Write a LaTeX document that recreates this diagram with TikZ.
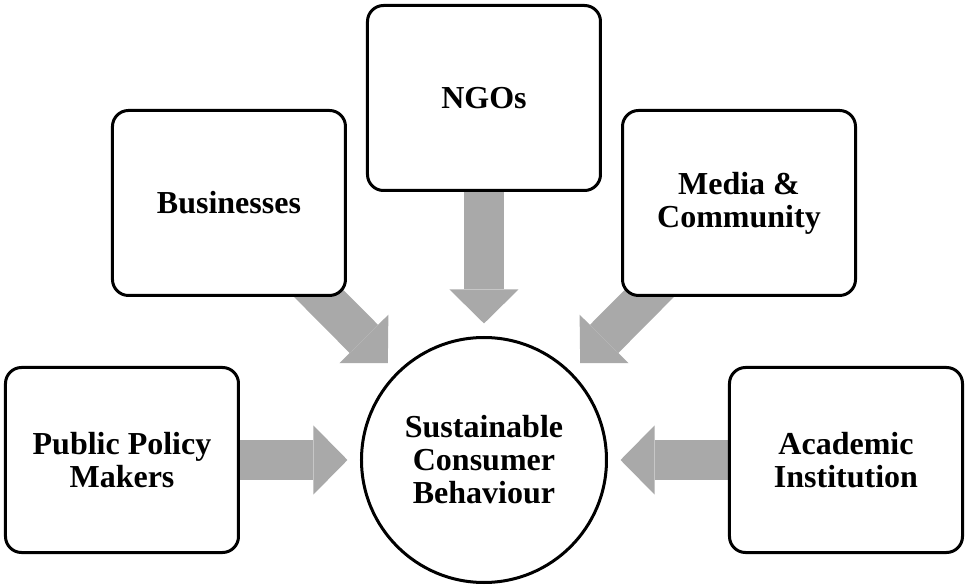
\documentclass[tikz,border=0pt]{standalone}
\usepackage{fontspec}
\setmainfont{Liberation Serif}
\usetikzlibrary{arrows.meta, positioning, backgrounds}

\definecolor{flowgray}{RGB}{169,169,169}

\begin{document}
\begin{tikzpicture}[
        actor/.style={draw, line width=2.25pt, rounded corners=12pt, fill=white, minimum width=174.75pt, minimum height=138.75pt, align=center, font=\fontsize{24}{24.75}\selectfont\bfseries},
        hub/.style={draw, circle, line width=2.25pt, fill=white, minimum size=183.75pt, inner sep=0pt, align=center, font=\fontsize{24}{24.75}\selectfont\bfseries},
        flow/.style={draw=flowgray, line width=30pt, -{Triangle[width=51.75pt, length=25.5pt, line width=0pt]}, shorten >=9.4pt}
    ]
        \useasboundingbox (-363pt,-94.5pt) rectangle (360.75pt,345pt);

        % Nodes
        \node[hub] (consumer) at (0,0) {Sustainable\\Consumer\\Behaviour};
        \node[actor, left=90pt of consumer] (policy) {Public Policy\\Makers};
        \node[actor, right=90pt of consumer] (academic) {Academic\\Institution};
        \node[actor, above=108pt of consumer] (ngo) {NGOs};
        \node[actor, above left=56.5pt and 37pt of consumer] (business) {Businesses};
        \node[actor, above right=56.5pt and 37pt of consumer] (media) {Media \&\\Community};

        % Arrows
        \begin{scope}[on background layer]
            \draw[flow] (policy.center) -- (consumer);
            \draw[flow] (business.center) -- (consumer);
            \draw[flow] (ngo.center) -- (consumer);
            \draw[flow] (media.center) -- (consumer);
            \draw[flow] (academic.center) -- (consumer);
        \end{scope}
    \end{tikzpicture}
\end{document}
